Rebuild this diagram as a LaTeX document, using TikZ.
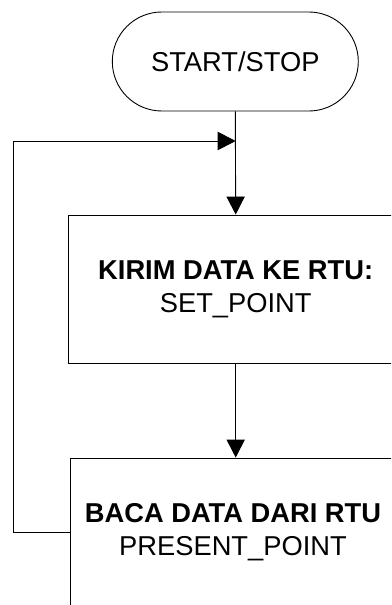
\documentclass[tikz,border=0pt]{standalone}
\usepackage{fontspec}
\setmainfont{Liberation Sans}
\usetikzlibrary{arrows.meta}
\begin{document}
\begin{tikzpicture}[x=1pt,y=-1pt,
  every node/.style={font=\fontsize{27.3}{33}\selectfont, inner sep=0pt},
  termbox/.style={draw, line width=0.9pt, rectangle, rounded corners=49.5pt, minimum width=246pt, minimum height=99pt},
  procbox/.style={draw, line width=0.9pt, rectangle, minimum height=148pt, align=center},
  arr/.style={line width=0.9pt, -{Triangle[length=18pt,width=18.3pt]}},
  conn/.style={line width=0.9pt}]
\clip (0,0) rectangle (391,605);
\fill[white] (0,0) rectangle (391,605);
\node[termbox] (t) at (235.3,61.5) {START/STOP};
\node[procbox, minimum width=335pt] (b1) at (235.7,289) {\textbf{KIRIM DATA KE RTU:}\\SET\_POINT};
\node[procbox, minimum width=326pt] (b2) at (233,532) {\textbf{BACA DATA DARI RTU}\\PRESENT\_POINT};
\coordinate (j) at (235.7,141);
\coordinate (lt) at (13.3,141);
\draw[arr] (t.south) -- (b1.north);
\draw[arr] (b1.south) -- (b1.south |- b2.north);
\draw[conn] (b2.west) -| (lt);
\draw[arr] (lt) -- (j);
\end{tikzpicture}
\end{document}
